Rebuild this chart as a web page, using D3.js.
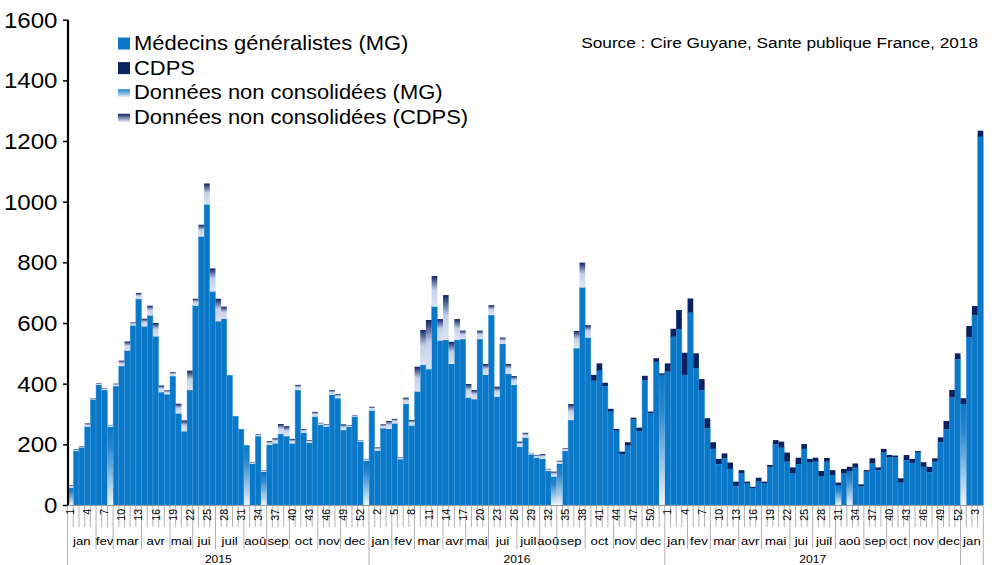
<!DOCTYPE html>
<html><head><meta charset="utf-8">
<script src="https://cdn.jsdelivr.net/npm/d3@7"></script>
<style>body{margin:0;background:#fff;} svg{display:block;font-family:"Liberation Sans",Arial,sans-serif;}</style>
</head><body><svg id="c" width="992" height="565"></svg>
<script>
const years = [2015, 2016, 2017, 2018];
const monthNames = ["jan","fev","mar","avr","mai","jui","juil","aoû","sep","oct","nov","dec"];
const monthWeeks = [
  [5,3,5,5,4,4,5,4,4,5,4,5],
  [4,4,5,4,4,5,4,3,5,5,4,5],
  [4,4,5,4,5,4,4,5,4,4,5,4],
  [4]
];
const yTicks = [0,200,400,600,800,1000,1200,1400,1600];
const seriesNames = ["Médecins généralistes (MG)","CDPS","Données non consolidées (MG)","Données non consolidées (CDPS)"];

const mg = [0,178,190,258,348,396,379,0,392,458,
509,592,679,589,625,556,372,365,425,302,
243,379,657,885,991,704,606,614,428,293,
250,0,136,227,0,198,203,234,227,203,
379,238,205,291,264,258,363,352,247,258,
291,209,0,311,179,253,251,269,151,333,
262,374,462,448,654,542,544,465,544,547,
354,349,547,429,626,357,531,432,396,192,
222,167,156,152,112,0,0,178,280,517,
717,552,410,443,392,308,245,167,196,282,
244,412,302,472,0,440,555,580,429,634,
451,379,253,185,135,154,119,63,104,71,
55,79,71,126,200,189,143,104,135,185,
140,143,94,143,99,0,104,0,123,62,
110,137,115,173,157,157,74,148,139,173,
126,108,143,207,250,355,481,0,553,626,
1214];
const ncMG = [57,0,0,0,0,0,0,258,0,0,
0,0,0,0,0,0,0,0,0,0,
0,0,0,0,0,0,0,0,0,0,
0,197,0,0,110,0,0,0,0,0,
0,0,0,0,0,0,0,0,0,0,
0,0,146,0,0,0,0,0,0,0,
0,0,0,0,0,0,0,0,0,0,
0,0,0,0,0,0,0,0,0,0,
0,0,0,0,0,94,136,0,0,0,
0,0,0,0,0,0,0,0,0,0,
0,0,0,0,429,0,0,0,0,0,
0,0,0,0,0,0,0,0,0,0,
0,0,0,0,0,0,0,0,0,0,
0,0,0,0,0,64,0,112,0,0,
0,0,0,0,0,0,0,0,0,0,
0,0,0,0,0,0,0,333,0,0,
0];
const cdps = [0,0,0,0,0,0,0,0,0,0,
0,0,0,0,0,0,0,0,0,0,
0,0,0,0,0,0,0,0,0,0,
0,0,0,0,0,0,0,0,0,0,
0,0,0,0,0,0,0,0,0,0,
0,0,0,0,0,0,0,0,0,0,
0,0,0,0,0,0,0,0,0,0,
0,0,0,0,0,0,0,0,0,0,
0,0,0,0,0,0,0,0,0,0,
0,0,19,24,11,9,6,9,11,6,
11,14,6,12,5,27,26,63,73,47,
49,36,33,22,17,16,21,14,11,6,
5,11,6,6,14,20,30,20,21,16,
12,13,18,12,16,10,15,14,14,6,
5,17,9,12,8,6,14,17,13,5,
15,18,11,16,27,24,19,19,37,30,
20];
const ncCDPS = [8,6,3,11,4,6,5,6,8,18,
30,10,20,25,32,44,22,13,13,32,
36,64,23,39,69,76,74,40,0,0,
0,0,6,7,5,13,17,33,33,15,
17,13,9,16,7,8,16,14,19,5,
6,5,6,13,11,13,26,15,6,21,
18,82,115,162,101,71,148,73,69,28,
45,30,28,36,33,33,21,33,29,17,
16,5,9,16,7,16,10,9,53,57,
82,41,0,0,0,0,0,0,0,0,
0,0,0,0,0,0,0,0,0,0,
0,0,0,0,0,0,0,0,0,0,
0,0,0,0,0,0,0,0,0,0,
0,0,0,0,0,0,0,0,0,0,
0,0,0,0,0,0,0,0,0,0,
0,0,0,0,0,0,0,0,0,0,
0];

const SX = 1.12; // horizontal text stretch of the original picture

// build categories
const cats = [];
years.forEach((yr, yi) => {
  let w = 1;
  monthWeeks[yi].forEach((n, mi) => {
    for (let j = 0; j < n; j++) { cats.push({year: yr, yi, week: w, month: mi}); w++; }
  });
});
const rows = cats.map((c, i) => ({i, mg: mg[i], ncMG: ncMG[i], cdps: cdps[i], ncCDPS: ncCDPS[i]}));

const svg = d3.select("#c");
const x = d3.scaleBand().domain(d3.range(cats.length)).range([67.6, 983.3]).padding(0);
const y = d3.scaleLinear().domain([0, 1600]).range([505, 19.7]);

const defs = svg.append("defs");
function grad(id, stops) {
  const g = defs.append("linearGradient").attr("id", id).attr("x1",0).attr("y1",0).attr("x2",0).attr("y2",1);
  stops.forEach(s => g.append("stop").attr("offset", s[0]).attr("stop-color", s[1]));
}
grad("gMG", [[0,"#0a78c8"],[0.25,"#2786cd"],[1,"#eef3fa"]]);
grad("gCD", [[0,"#0e2466"],[0.45,"#c2d0e9"],[1,"#dbe4f3"]]);
grad("lgMG", [[0,"#1a82d0"],[1,"#e8eff8"]]);
grad("lgCD", [[0,"#0e2466"],[1,"#e0e7f3"]]);

const colors = {mg: "#0a78c8", ncMG: "url(#gMG)", cdps: "#0b2262", ncCDPS: "url(#gCD)"};
const stack = d3.stack().keys(["mg","ncMG","cdps","ncCDPS"]);
const layers = stack(rows);

const gb = svg.append("g");
layers.forEach(layer => {
  gb.append("g").selectAll("rect").data(layer.filter(d => d[1] - d[0] > 0)).join("rect")
    .attr("x", d => x(d.data.i))
    .attr("width", x.bandwidth())
    .attr("y", d => y(d[1]))
    .attr("height", d => y(d[0]) - y(d[1]))
    .attr("fill", colors[layer.key])
    .attr("stroke", layer.key === "mg" ? "#3f97d8" : "none")
    .attr("stroke-width", 0.5);
});

// y axis
const ya = svg.append("g").attr("transform", "translate(68,0)")
  .call(d3.axisLeft(y).tickValues(yTicks).tickSize(5).tickPadding(6).tickFormat(d3.format("d")));
ya.select(".domain").attr("stroke", "#000").attr("stroke-width", 2.2).attr("d", `M0,${y(1600)}V${y(0)}`);
ya.selectAll(".tick line").attr("stroke", "#000").attr("stroke-width", 1.5);
ya.selectAll(".tick text").attr("font-size", 21.5).attr("fill", "#000")
  .attr("font-family", "Liberation Sans, Arial, sans-serif")
  .attr("x", -10.5 / SX).attr("dy", "0.35em")
  .attr("transform", `scale(${SX},1)`);

// x baseline
svg.append("line").attr("x1", 67.6).attr("x2", 983.3).attr("y1", 505.5).attr("y2", 505.5).attr("stroke", "#999").attr("stroke-width", 1);

// week ticks
const gx = svg.append("g");
const edges = d3.range(cats.length + 1);
const edgeX = k => k < cats.length ? x(k) : x(k-1) + x.bandwidth();
gx.selectAll("line.wk").data(edges).join("line")
  .attr("x1", edgeX).attr("x2", edgeX)
  .attr("y1", 506).attr("y2", k => {
    if (k === 0 || k === cats.length || cats[k].year !== cats[k-1].year) return 565;
    if (cats[k].month !== cats[k-1].month) return 549;
    return 527;
  })
  .attr("stroke", "#b0b0b0").attr("stroke-width", 1);

// week labels (every 3rd week), reading bottom to top
gx.selectAll("text.wk").data(cats.map((c,i)=>({...c,i})).filter(c => c.i % 3 === 0)).join("text")
  .attr("transform", c => `translate(${x(c.i) + x.bandwidth()/2 + 3.8},509) rotate(-90)`)
  .attr("text-anchor", "end")
  .attr("font-size", 10.5)
  .text(c => c.week);

function stretchedText(g, xx, yy, size, txt, anchor) {
  g.append("text").attr("transform", `translate(${xx},${yy}) scale(${SX},1)`)
    .attr("text-anchor", anchor || "start").attr("font-size", size).attr("fill", "#000").text(txt);
}

// month labels
const indexed = cats.map((c,i)=>({...c,i}));
const monthGroups = d3.groups(indexed, c => c.year + "-" + c.month);
monthGroups.forEach(g => {
  const a = g[1][0].i, b = g[1][g[1].length-1].i;
  stretchedText(gx, (x(a) + x(b) + x.bandwidth()) / 2, 544.5, 11.8, monthNames[g[1][0].month], "middle");
});

// year labels
const yearGroups = d3.groups(indexed, c => c.year);
yearGroups.filter(g => g[1].length > 10).forEach(g => {
  const a = g[1][0].i, b = g[1][g[1].length-1].i;
  stretchedText(gx, (x(a) + x(b) + x.bandwidth()) / 2, 563, 10.8, g[0], "middle");
});

// legend
const legFills = ["#0a78c8", "#0b2262", "url(#lgMG)", "url(#lgCD)"];
const lg = svg.append("g");
seriesNames.forEach((n, i) => {
  const cy = 43 + i * 24.6;
  if (i < 2) lg.append("rect").attr("x", 118).attr("y", cy - 5.5).attr("width", 12).attr("height", 12).attr("fill", legFills[i]);
  else lg.append("rect").attr("x", 118).attr("y", cy - 3).attr("width", 12).attr("height", 8).attr("fill", legFills[i]);
  stretchedText(lg, 134, cy + 7, 19.6, n);
});

stretchedText(svg, 978, 48, 15.4, "Source : Cire Guyane, Sante publique France, 2018", "end");
</script></body></html>
